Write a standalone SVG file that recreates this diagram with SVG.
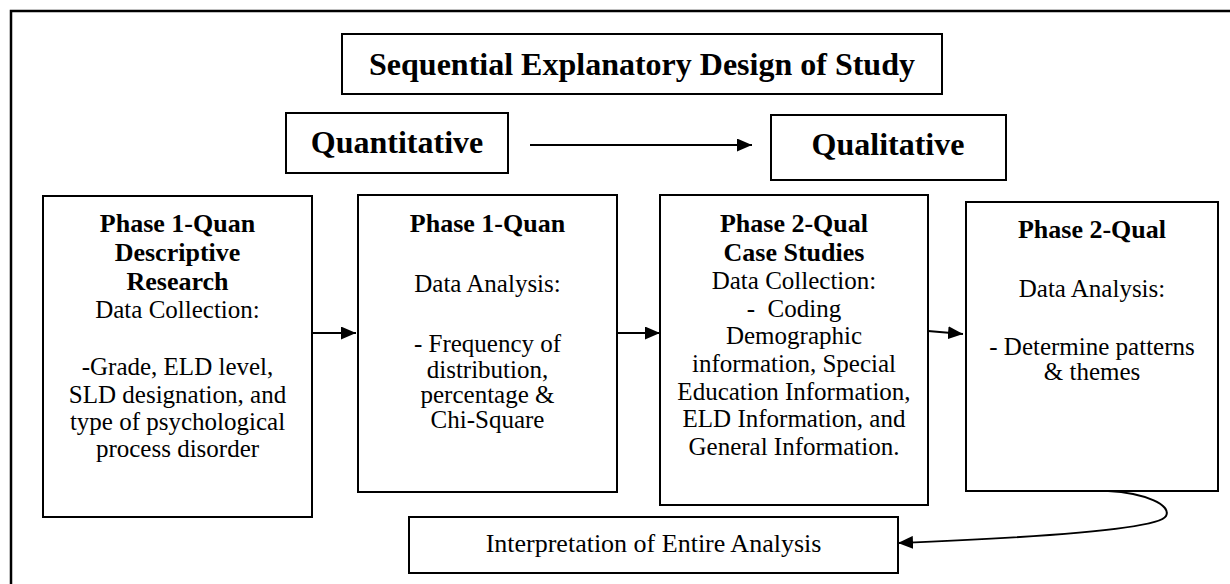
<svg xmlns="http://www.w3.org/2000/svg" width="1230" height="584" viewBox="0 0 1230 584">
<style>
.box{fill:#fff;stroke:#000;stroke-width:2}
.frame{fill:none;stroke:#000;stroke-width:2.5}
.t{font-family:"Liberation Serif","Times New Roman",serif;fill:#000;text-anchor:middle}
.big{font-size:32px;font-weight:bold}
.h{font-size:26px;font-weight:bold}
.b{font-size:25px}
.conn{fill:none;stroke:#000;stroke-width:2}
</style>
<defs>
<marker id="ah" markerWidth="15" markerHeight="13" refX="15" refY="6.5" orient="auto" markerUnits="userSpaceOnUse">
<path d="M0,0 L15,6.5 L0,13 z" fill="#000"/>
</marker>
</defs>
<rect width="1230" height="584" fill="#fff"/>
<rect class="frame" x="11" y="11" width="1300" height="700"/>

<g id="title">
<rect class="box" x="342" y="34" width="600" height="60"/>
<text class="t big" x="642" y="75">Sequential Explanatory Design of Study</text>
</g>
<g id="quantitative">
<rect class="box" x="286" y="113" width="222" height="60"/>
<text class="t big" x="397" y="153">Quantitative</text>
</g>
<g id="qualitative">
<rect class="box" x="771" y="115" width="235" height="65"/>
<text class="t big" x="888" y="155">Qualitative</text>
</g>

<g id="phase1-collection">
<rect class="box" x="43" y="196" width="269" height="321"/>
<text class="t h" x="177.5" y="232">Phase 1-Quan</text>
<text class="t h" x="177.5" y="261">Descriptive</text>
<text class="t h" x="177.5" y="290">Research</text>
<text class="t b" x="177.5" y="318">Data Collection:</text>
<text class="t b" x="177.5" y="375">-Grade, ELD level,</text>
<text class="t b" x="177.5" y="403">SLD designation, and</text>
<text class="t b" x="177.5" y="430">type of psychological</text>
<text class="t b" x="177.5" y="457">process disorder</text>
</g>

<g id="phase1-analysis">
<rect class="box" x="358" y="195" width="259" height="297"/>
<text class="t h" x="487.5" y="232">Phase 1-Quan</text>
<text class="t b" x="487.5" y="292">Data Analysis:</text>
<text class="t b" x="487.5" y="352">- Frequency of</text>
<text class="t b" x="487.5" y="378">distribution,</text>
<text class="t b" x="487.5" y="403">percentage &amp;</text>
<text class="t b" x="487.5" y="428">Chi-Square</text>
</g>

<g id="phase2-collection">
<rect class="box" x="660" y="195" width="268" height="310"/>
<text class="t h" x="794" y="232">Phase 2-Qual</text>
<text class="t h" x="794" y="261">Case Studies</text>
<text class="t b" x="794" y="289">Data Collection:</text>
<text class="t b" x="794" y="317">-&#160; Coding</text>
<text class="t b" x="794" y="344">Demographic</text>
<text class="t b" x="794" y="372">information, Special</text>
<text class="t b" x="794" y="400">Education Information,</text>
<text class="t b" x="794" y="427">ELD Information, and</text>
<text class="t b" x="794" y="455">General Information.</text>
</g>

<g id="phase2-analysis">
<rect class="box" x="966" y="202" width="252" height="289"/>
<text class="t h" x="1092" y="238">Phase 2-Qual</text>
<text class="t b" x="1092" y="297">Data Analysis:</text>
<text class="t b" x="1092" y="355">- Determine patterns</text>
<text class="t b" x="1092" y="380">&amp; themes</text>
</g>

<g id="interpretation">
<rect class="box" x="409" y="517" width="489" height="56"/>
<text class="t b" x="653.5" y="552" style="font-size:26px">Interpretation of Entire Analysis</text>
</g>

<g id="connectors">
<path class="conn" d="M530,145 L752,145" marker-end="url(#ah)"/>
<path class="conn" d="M312,333 L356,333" marker-end="url(#ah)"/>
<path class="conn" d="M617,333 L660,333" marker-end="url(#ah)"/>
<path class="conn" d="M928,331 L963,334" marker-end="url(#ah)"/>
<path class="conn" d="M1108,491 C1145,493 1172,505 1166,516 C1158,531 1000,539 898,543" marker-end="url(#ah)"/>
</g>
</svg>
